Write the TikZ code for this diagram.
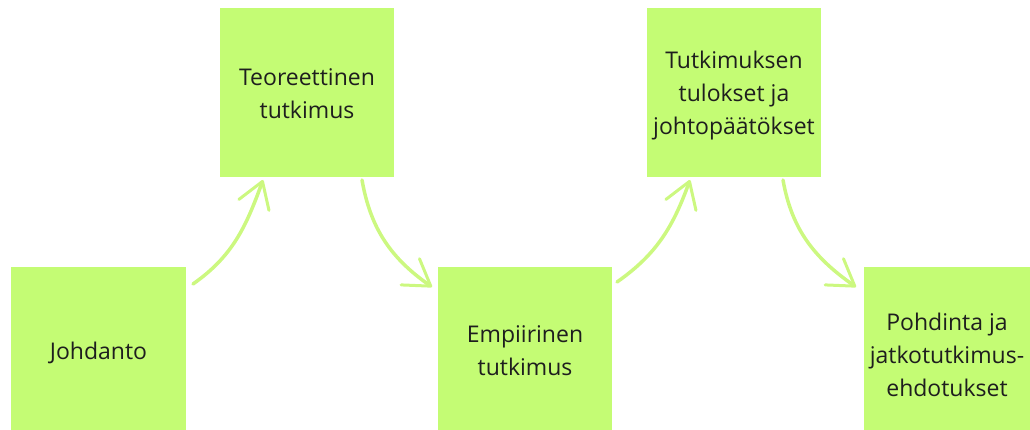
\documentclass[tikz,border=0pt]{standalone}
\usepackage{fontspec}
\setmainfont{Open Sans}
\usetikzlibrary{arrows.meta}
\definecolor{boxgreen}{RGB}{196,252,116}
\definecolor{arrowgreen}{RGB}{204,248,128}
\definecolor{txt}{RGB}{30,30,30}
\tikzset{
  boxlabel/.style={align=center, text=txt, font=\fontsize{23}{33}\selectfont},
  flowarrow/.style={draw=arrowgreen, line width=3.5pt, line cap=round,
    -{Straight Barb[length=25pt,width=32pt,line width=3pt,round]}}
}
\begin{document}
\begin{tikzpicture}[x=1pt,y=-1pt]
\useasboundingbox (0,0) rectangle (1030,430);
% boxes
\path[fill=boxgreen] (11,267) rectangle (186,430);
\node[boxlabel] (a) at (98.5,353) {Johdanto};
\path[fill=boxgreen] (220,8) rectangle (394,177);
\node[boxlabel] (b) at (307,94) {Teoreettinen\\tutkimus};
\path[fill=boxgreen] (438,267) rectangle (612,430);
\node[boxlabel] (c) at (525,351) {Empiirinen\\tutkimus};
\path[fill=boxgreen] (647,8) rectangle (821,177);
\node[boxlabel] (d) at (734,96) {Tutkimuksen\\tulokset ja\\johtopäätökset};
\path[fill=boxgreen] (864,267) rectangle (1030,430);
\node[boxlabel] (e) at (947,355) {Pohdinta ja\\jatkotutkimus-\\ehdotukset};
% connector endpoints
\coordinate (a1) at (193,284);
\coordinate (b0) at (263,180);
\coordinate (b1) at (362,180);
\coordinate (c0) at (432,287);
\coordinate (c1) at (617,282);
\coordinate (d0) at (690,180);
\coordinate (d1) at (783,180);
\coordinate (e0) at (856,287);
% arrows
\draw[flowarrow] (a1) to[out=35,in=-110] (b0);
\draw[flowarrow] (b1) to[out=-80,in=145] (c0);
\draw[flowarrow] (c1) to[out=35,in=-110] (d0);
\draw[flowarrow] (d1) to[out=-80,in=145] (e0);
\end{tikzpicture}
\end{document}
